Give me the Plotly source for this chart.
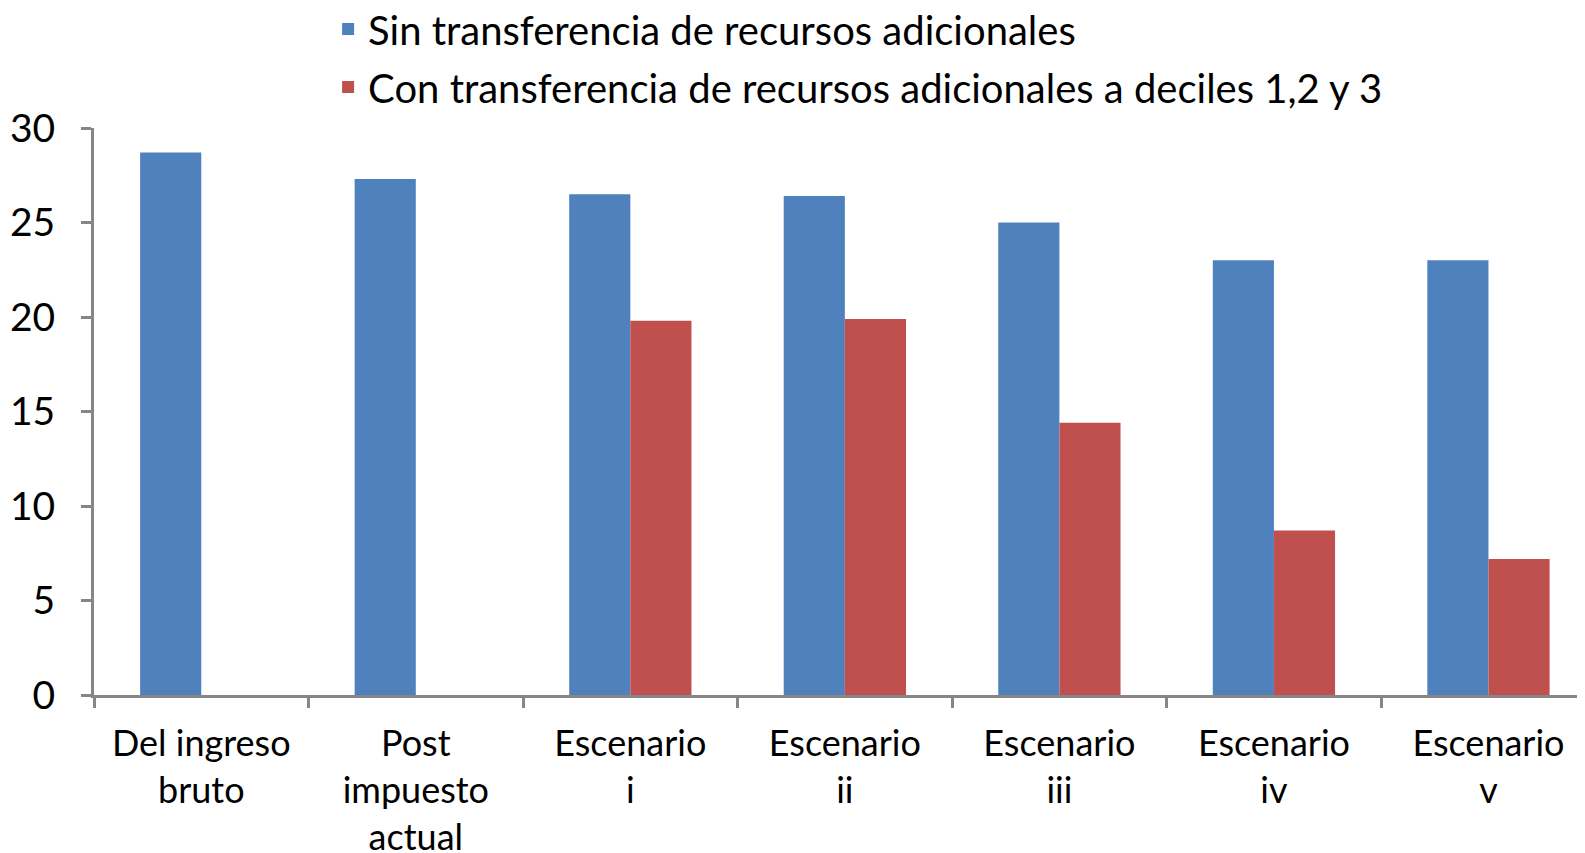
import plotly.graph_objects as go

categories = ["Del ingreso<br>bruto", "Post<br>impuesto<br>actual", "Escenario<br>i",
              "Escenario<br>ii", "Escenario<br>iii", "Escenario<br>iv", "Escenario<br>v"]
sin_transf = [28.7, 27.3, 26.5, 26.4, 25.0, 23.0, 23.0]
con_transf = [None, None, 19.8, 19.9, 14.4, 8.7, 7.2]
series_names = ["Sin transferencia de recursos adicionales",
                "Con transferencia de recursos adicionales a deciles 1,2 y 3"]
y_ticks = [0, 5, 10, 15, 20, 25, 30]

FONT = "Lato"
AX = "#868686"

fig = go.Figure()
fig.add_trace(go.Bar(x=categories, y=sin_transf, name=series_names[0], legendgroup="a",
                     marker=dict(color="#4F81BD", line=dict(width=0))))
fig.add_trace(go.Bar(x=categories, y=con_transf, name=series_names[1], legendgroup="b",
                     marker=dict(color="#C0504D", line=dict(width=0))))

fig.update_layout(
    width=1577, height=845,
    margin=dict(l=86, r=0, t=120, b=158, autoexpand=False),
    paper_bgcolor="white", plot_bgcolor="white",
    barmode="group", bargap=0.43, bargroupgap=0,
    font=dict(family=FONT, size=36, color="black"),
    legend=dict(x=0.157, y=1.232, xanchor="left", yanchor="top",
                orientation="v", font=dict(size=40, family=FONT),
                bgcolor="rgba(0,0,0,0)", tracegroupgap=3),
    xaxis=dict(type="category", range=[-0.5, 6.45], showline=True, linecolor=AX,
               linewidth=3, ticks="outside", tickson="boundaries", ticklen=10,
               tickwidth=3, tickcolor=AX, showgrid=False, zeroline=False,
               automargin=False, ticklabelstandoff=15,
               tickfont=dict(size=36, family=FONT)),
    yaxis=dict(range=[0, 30], tickvals=y_ticks, showline=True, linecolor=AX,
               linewidth=3, ticks="outside", ticklen=10, tickwidth=3, tickcolor=AX,
               showgrid=False, zeroline=False, automargin=False,
               ticklabelstandoff=18, tickfont=dict(size=39, family=FONT)),
)

fig.write_html("out.html")
